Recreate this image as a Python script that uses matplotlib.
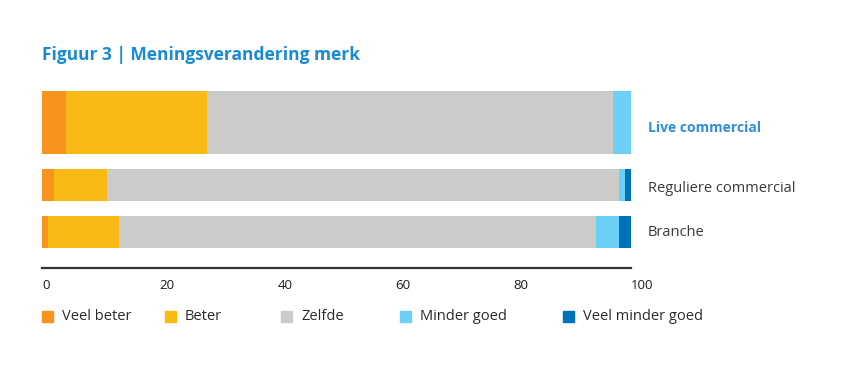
import matplotlib.pyplot as plt
from matplotlib.patches import Rectangle

# Data (percentages)
groups = ["Live commercial", "Reguliere commercial", "Branche"]
categories = ["Veel beter", "Beter", "Zelfde", "Minder goed", "Veel minder goed"]
veel_beter = [4, 2, 1]
beter = [24, 9, 12]
zelfde = [69, 87, 81]
minder_goed = [3, 1, 4]
veel_minder_goed = [0, 1, 2]
xticks = [0, 20, 40, 60, 80, 100]

colors = ["#F7941E", "#F9BA16", "#CBCBCA", "#6DCFF6", "#0072BC"]
series = [veel_beter, beter, zelfde, minder_goed, veel_minder_goed]

plt.rcParams['font.family'] = ['Open Sans', 'DejaVu Sans']

W, H = 864, 369
fig = plt.figure(figsize=(W / 100, H / 100), dpi=100)
ax = fig.add_axes([42 / W, 1 - 268 / H, 589 / W, 177 / H])

# bar layout (pixel units from top of axes)
ypos = [31.5, 94, 141]
heights = [63, 32, 32]

left = [0, 0, 0]
for vals, col in zip(series, colors):
    ax.barh(ypos, vals, height=heights, left=left, color=col, edgecolor="none")
    left = [l + v for l, v in zip(left, vals)]

ax.set_xlim(0, 100)
ax.set_ylim(177, 0)
ax.set_yticks([])
ax.set_xticks(xticks)
ax.set_xticklabels([str(t) for t in xticks], ha="left", fontsize=9.5, color="#1a1a1a")
ax.tick_params(axis="x", length=0, pad=8)
for s in ["top", "right", "left"]:
    ax.spines[s].set_visible(False)
ax.spines["bottom"].set_color("#333333")
ax.spines["bottom"].set_linewidth(1.6)

# group labels on the right
label_y = [128, 189, 233]
for i, (g, yy) in enumerate(zip(groups, label_y)):
    if i == 0:
        fig.text(648 / W, 1 - yy / H, g, ha="left", va="center", fontsize=10,
                 color="#2E8FD6", fontweight="bold")
    else:
        fig.text(648 / W, 1 - yy / H, g, ha="left", va="center", fontsize=10.5,
                 color="#3a3a3a")

# title
fig.text(42 / W, 1 - 55 / H, "Figuur 3 | Meningsverandering merk", ha="left", va="center",
         fontsize=12.5, fontweight="bold", color="#1A8BD3")

# legend
leg_x = [42, 165, 281, 400, 563]
for x, cat, col in zip(leg_x, categories, colors):
    fig.patches.append(Rectangle((x / W, 1 - 322 / H), 11 / W, 11 / H,
                                 transform=fig.transFigure, color=col))
    fig.text((x + 20) / W, 1 - 316 / H, cat, ha="left", va="center",
             fontsize=10.5, color="#2a2a2a")

fig.savefig("out.png", dpi=100)
